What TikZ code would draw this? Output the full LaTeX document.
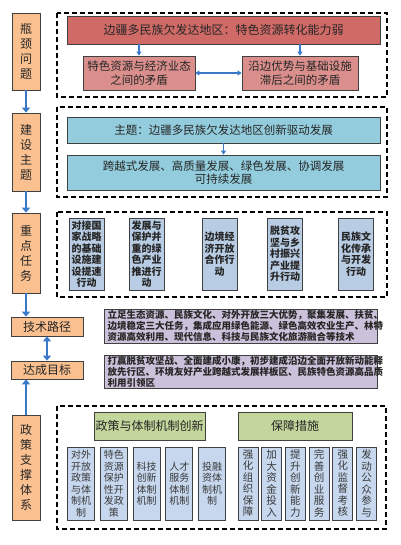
\documentclass[tikz,border=0pt]{standalone}
\usepackage{fontspec}
\setmainfont{Noto Sans CJK SC}
\usetikzlibrary{arrows.meta}
\definecolor{orangefill}{HTML}{FAC090}
\definecolor{redtop}{HTML}{D06A67}
\definecolor{redsub}{HTML}{DA8F8C}
\definecolor{bluebar}{HTML}{93CDDD}
\definecolor{taskfill}{HTML}{B8CCE4}
\definecolor{purplefill}{HTML}{CCC1DA}
\definecolor{greenfill}{HTML}{C3D69B}
\definecolor{smallfill}{HTML}{C6D7EE}
\definecolor{arrowblue}{HTML}{3A78C8}
\definecolor{txtgray}{HTML}{3A3A3A}
\tikzset{
  box/.style={draw=black!75, line width=0.8pt, inner sep=0pt, align=center, text=black!85},
  lbl/.style={box, fill=orangefill, minimum width=28pt, font=\fontsize{12}{15}\selectfont},
  hlbl/.style={box, fill=orangefill, minimum width=72pt, font=\fontsize{12}{14}\selectfont},
  dashbox/.style={draw=black, line width=1.7pt, dash pattern=on 5pt off 3pt},
  bigarrow/.style={draw=arrowblue, line width=2.6pt, -{Triangle[length=5pt,width=8pt]}},
  bigdarrow/.style={draw=arrowblue, line width=2.6pt, {Triangle[length=5pt,width=8pt]}-{Triangle[length=5pt,width=8pt]}},
  smallarrow/.style={draw=arrowblue, line width=1.5pt, -{Triangle[length=4pt,width=5pt]}},
  smalldarrow/.style={draw=arrowblue, line width=1.5pt, {Triangle[length=4pt,width=5pt]}-{Triangle[length=4pt,width=5pt]}},
  task/.style={box, fill=taskfill, minimum width=35pt, minimum height=72pt, font=\fontsize{10}{11.5}\selectfont\bfseries},
  pbox/.style={box, fill=purplefill, minimum width=273pt, align=left, text width=266pt, font=\fontsize{9.5}{11}\selectfont\bfseries},
  sboxl/.style={box, fill=smallfill, minimum width=27pt, minimum height=73pt, text=txtgray, font=\fontsize{10}{11.5}\selectfont},
  sboxr/.style={box, fill=smallfill, minimum width=20pt, minimum height=73pt, text=txtgray, font=\fontsize{10.5}{11.5}\selectfont},
}
\begin{document}
\begin{tikzpicture}[x=1pt,y=-1pt]
\useasboundingbox[fill=white] (0,0) rectangle (400,545);

% left column
\node[lbl, minimum height=77pt] (b1) at (26,51.5) {瓶\\颈\\问\\题};
\node[lbl, minimum height=78pt] (b2) at (26,152) {建\\设\\主\\题};
\node[lbl, minimum height=80pt] (b3) at (26,253) {重\\点\\任\\务};
\node[hlbl, minimum height=19pt] (b4) at (47,326.5) {技术路径};
\node[hlbl, minimum height=18pt] (b5) at (47,370) {达成目标};
\node[lbl, minimum height=105pt] (b6) at (26,467.5) {政\\策\\支\\撑\\体\\系};

\draw[bigarrow] (b1.south) -- (b2.north);
\draw[bigarrow] (b2.south) -- (b3.north);
\draw[bigarrow] (b3.south) -- (b3.south |- b4.north);
\draw[bigdarrow] (b4.south) -- (b5.north);
\draw[bigarrow] (b6.north) -- (b6.north |- b5.south);

% group 1
\draw[dashbox] (57,13) rectangle (387,97);
\node[box, fill=redtop, minimum width=313pt, minimum height=28pt, font=\fontsize{12}{14}\selectfont] (r0) at (223.5,30) {边疆多民族欠发达地区：特色资源转化能力弱};
\node[box, fill=redsub, minimum width=112pt, minimum height=34pt, font=\fontsize{11.5}{13.5}\selectfont] (r1) at (139,73) {特色资源与经济业态\\之间的矛盾};
\node[box, fill=redsub, minimum width=116pt, minimum height=34pt, font=\fontsize{11.5}{13.5}\selectfont] (r2) at (300,73) {沿边优势与基础设施\\滞后之间的矛盾};
\draw[smallarrow] (r0.south -| r1) -- (r1.north);
\draw[smallarrow] (r0.south -| r2) -- (r2.north);
\draw[smalldarrow] (r1.east) -- (r2.west);

% group 2
\draw[dashbox] (57,107) rectangle (387,197);
\node[box, fill=bluebar, minimum width=313pt, minimum height=26pt, font=\fontsize{11.5}{14}\selectfont] (t0) at (223.5,130) {主题：边疆多民族欠发达地区创新驱动发展};
\node[box, fill=bluebar, minimum width=313pt, minimum height=35pt, font=\fontsize{11.5}{13.5}\selectfont] (t1) at (223.5,172.5) {跨越式发展、高质量发展、绿色发展、协调发展\\可持续发展};
\draw[smallarrow] (t0.south) -- (t1.north);

% group 3
\draw[dashbox] (57,212) rectangle (387,297);
\node[task] (k1) at (86.5,254) {对接国\\家战略\\的基础\\设施建\\设提速\\行动};
\node[task] (k2) at (146.5,254) {发展与\\保护并\\重的绿\\色产业\\推进行\\动};
\node[task] (k3) at (219.5,254) {边境经\\济开放\\合作行\\动};
\node[task] (k4) at (285,254) {脱贫攻\\坚与乡\\村振兴\\产业提\\升行动};
\node[task] (k5) at (356,254) {民族文\\化传承\\与开发\\行动};

% purple boxes
\node[pbox, minimum height=34pt] (p1) at (240.5,326) {立足生态资源、民族文化、对外开放三大优势，聚集发展、扶贫、\\边境稳定三大任务，集成应用绿色能源、绿色高效农业生产、林特\\资源高效利用、现代信息、科技与民族文化旅游融合等技术};
\node[pbox, minimum height=33pt] (p2) at (240.5,371.5) {打赢脱贫攻坚战、全面建成小康，初步建成沿边全面开放新动能释\\放先行区、环境友好产业跨越式发展样板区、民族特色资源高品质\\利用引领区};

% group 4
\draw[dashbox] (57,406) rectangle (386,529);
\node[box, fill=greenfill, minimum width=111pt, minimum height=28pt, font=\fontsize{12}{14}\selectfont] (g1) at (149.5,426) {政策与体制机制创新};
\node[box, fill=greenfill, minimum width=114pt, minimum height=28pt, font=\fontsize{12}{14}\selectfont] (g2) at (295,426) {保障措施};

\node[sboxl] (s1) at (81,483.5) {对外\\开放\\政策\\与体\\制机\\制};
\node[sboxl] (s2) at (113.75,483.5) {特色\\资源\\保护\\性开\\发政\\策};
\node[sboxl] (s3) at (146.5,483.5) {科技\\创新\\体制\\机制};
\node[sboxl] (s4) at (179.25,483.5) {人才\\服务\\体制\\机制};
\node[sboxl] (s5) at (212,483.5) {投融\\资体\\制机\\制};

\node[sboxr] (u1) at (248,483.5) {强\\化\\组\\织\\保\\障};
\node[sboxr] (u2) at (271.7,483.5) {加\\大\\资\\金\\投\\入};
\node[sboxr] (u3) at (295.4,483.5) {提\\升\\创\\新\\能\\力};
\node[sboxr] (u4) at (319.1,483.5) {完\\善\\创\\业\\服\\务};
\node[sboxr] (u5) at (342.8,483.5) {强\\化\\监\\督\\考\\核};
\node[sboxr] (u6) at (366.5,483.5) {发\\动\\公\\众\\参\\与};
\end{tikzpicture}
\end{document}
